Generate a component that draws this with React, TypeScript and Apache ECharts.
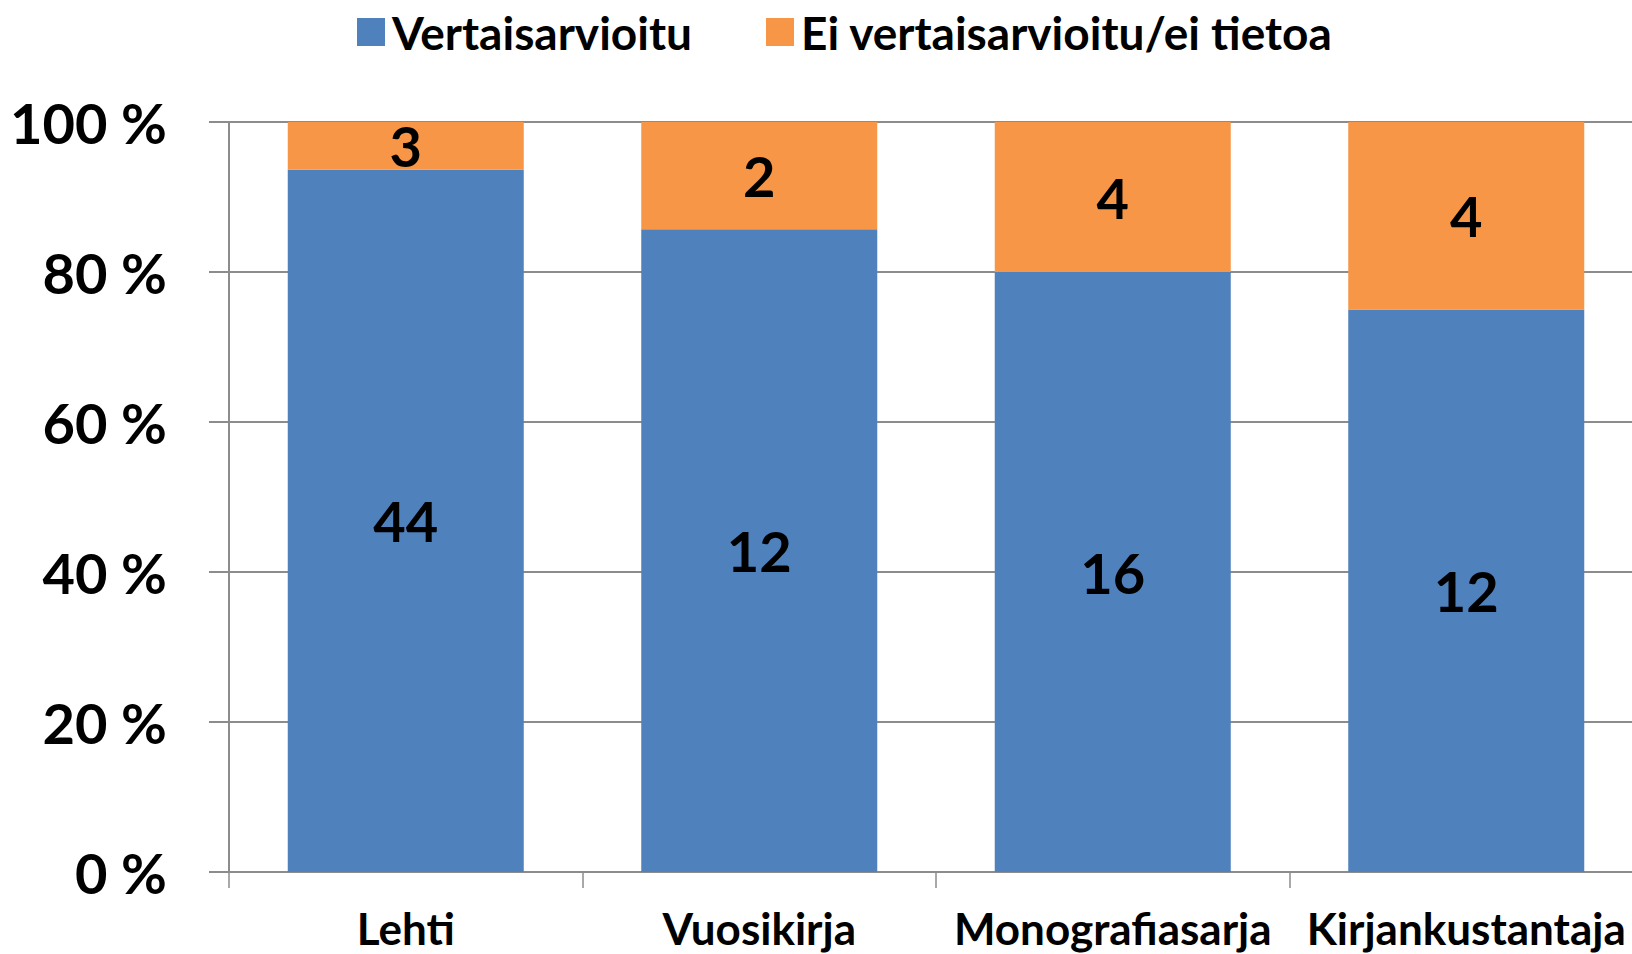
import React, { useEffect, useRef } from "react";
import * as echarts from "echarts";

const categories = ["Lehti", "Vuosikirja", "Monografiasarja", "Kirjankustantaja"];
const peerReviewed = [44, 12, 16, 12];
const notPeerReviewed = [3, 2, 4, 4];
const seriesNames = ["Vertaisarvioitu", "Ei vertaisarvioitu/ei tietoa"];
const yTicks = [0, 20, 40, 60, 80, 100];

const FONT = "Lato";

export default function App() {
  const ref = useRef<HTMLDivElement>(null);
  useEffect(() => {
    if (!ref.current) return;
    const chart = echarts.init(ref.current, null, { renderer: "svg" });
    const totals = peerReviewed.map((v, i) => v + notPeerReviewed[i]);
    const pct = (arr: number[]) =>
      arr.map((v, i) => ({ value: (v / totals[i]) * 100, count: v }));
    const labelCfg = {
      show: true,
      position: "inside",
      formatter: (p: any) => String(p.data.count),
      color: "#000",
      fontFamily: FONT,
      fontWeight: "bold",
      fontSize: 56,
    };
    chart.setOption({
      animation: false,
      backgroundColor: "#fff",
      legend: {
        left: 352,
        top: 4,
        itemWidth: 28,
        itemHeight: 28,
        itemGap: 74,
        icon: "rect",
        textStyle: {
          fontFamily: FONT,
          fontWeight: "bold",
          fontSize: 46,
          color: "#000",
          padding: [0, 0, 0, 2],
        },
        data: seriesNames,
      },
      grid: { left: 229, right: 0, top: 122, bottom: 82, containLabel: false },
      xAxis: {
        type: "category",
        data: categories,
        axisLine: { show: true, lineStyle: { color: "#8c8c8c", width: 2 } },
        axisTick: { show: true, length: 16, lineStyle: { color: "#8c8c8c", width: 1.5 } },
        axisLabel: {
          interval: 0,
          margin: 38,
          lineHeight: 36,
          color: "#000",
          fontFamily: FONT,
          fontWeight: "bold",
          fontSize: 44,
        },
      },
      yAxis: {
        type: "value",
        min: 0,
        max: 100,
        interval: 20,
        axisLine: { show: true, lineStyle: { color: "#8c8c8c", width: 2 } },
        axisTick: { show: true, length: 20, lineStyle: { color: "#8c8c8c", width: 2 } },
        splitLine: { show: true, lineStyle: { color: "#8c8c8c", width: 2 } },
        axisLabel: {
          margin: 62,
          color: "#000",
          fontFamily: FONT,
          fontWeight: "bold",
          fontSize: 56,
          formatter: (v: number) => (yTicks.includes(v) ? `${v} %` : ""),
        },
      },
      series: [
        {
          name: seriesNames[0],
          type: "bar",
          stack: "total",
          barWidth: 236,
          itemStyle: { color: "#4F81BD" },
          label: labelCfg,
          data: pct(peerReviewed),
        },
        {
          name: seriesNames[1],
          type: "bar",
          stack: "total",
          barWidth: 236,
          itemStyle: { color: "#F79646" },
          label: labelCfg,
          data: pct(notPeerReviewed),
        },
      ],
    });
    return () => chart.dispose();
  }, []);
  return (
    <div
      style={{
        position: "fixed",
        left: 0,
        top: 0,
        width: 1632,
        height: 954,
        overflow: "hidden",
        background: "#fff",
      }}
    >
      <div ref={ref} style={{ width: 1643, height: 954 }} />
    </div>
  );
}
